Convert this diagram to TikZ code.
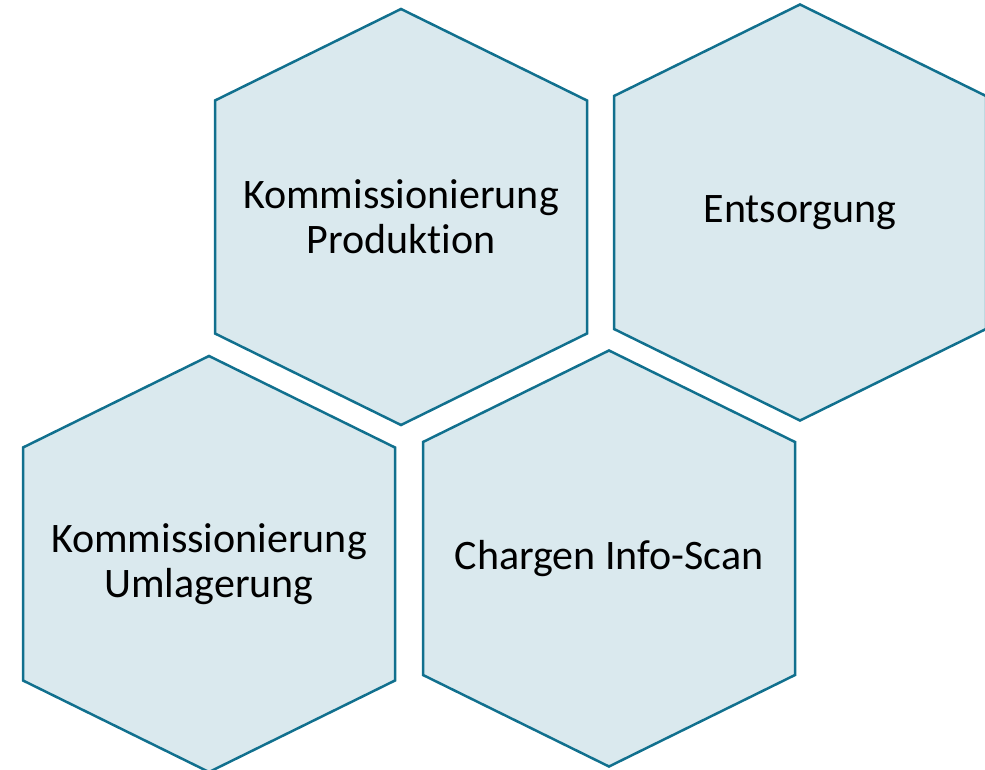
\documentclass[tikz,border=0pt]{standalone}
\usepackage{fontspec}
\setmainfont{Carlito}[Ligatures=NoCommon]
\usepackage{tikz}
\definecolor{cellfill}{RGB}{218,233,238}
\definecolor{celledge}{RGB}{17,112,142}

% hexagon cell: name, centre, text
\newcommand{\hexcell}[3]{%
  \draw[cell] (#2) ++(0,-208) -- ++(186,91.5) -- ++(0,233) -- ++(-186,91.5)
    -- ++(-186,-91.5) -- ++(0,-233) -- cycle;
  \node[celltext] (#1) at (#2) {#3};}

\begin{document}
\begin{tikzpicture}[x=1pt, y=-1pt]
		\tikzstyle{cell} = [draw=celledge, fill=cellfill, line width=2.5pt, line join=miter]
		\tikzstyle{celltext} = [align=center, inner sep=0pt, font=\fontsize{42}{45}\selectfont]

		\useasboundingbox (0,0) rectangle (985,770);
		\begin{scope}
		\clip (0,0) rectangle (985,770);
		\hexcell{prod}{401,217}{Kommissionierung\\Produktion}
		\hexcell{ents}{800,212.5}{Entsorgung}
		\hexcell{umla}{209,564}{Kommissionierung\\Umlagerung}
		\hexcell{scan}{609,558.5}{Chargen Info-Scan}
		\end{scope}
\end{tikzpicture}
\end{document}
